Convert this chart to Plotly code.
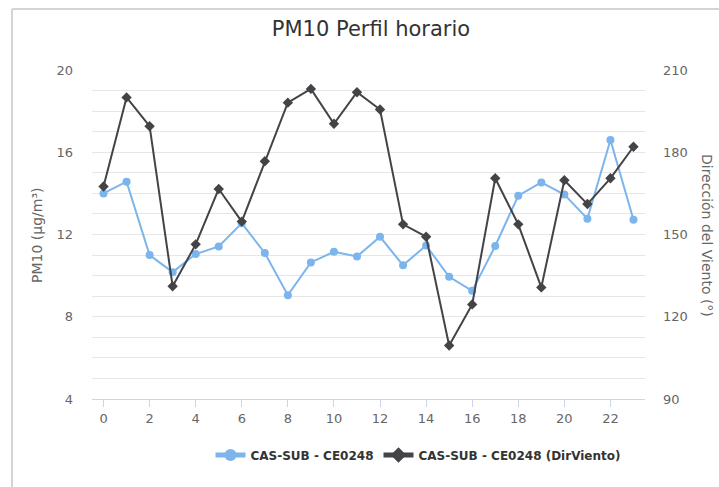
import plotly.graph_objects as go

hours = list(range(24))
pm10 = [14.0, 14.57, 11.0, 10.17, 11.05, 11.42, 12.55, 11.1, 9.05, 10.64, 11.16, 10.93,
        11.89, 10.5, 11.47, 9.94, 9.26, 11.44, 13.89, 14.53, 13.94, 12.77, 16.6, 12.72]
dir_viento = [167.5, 200.0, 189.5, 131.1, 146.4, 166.6, 154.7, 176.7, 198.1, 203.1, 190.4, 201.9,
              195.6, 153.7, 149.2, 109.5, 124.5, 170.5, 153.7, 130.7, 169.8, 161.1, 170.5, 182.0]
x_ticks = list(range(0, 24, 2))
left_ticks = [4, 8, 12, 16, 20]
right_ticks = [90, 120, 150, 180, 210]

FONT = "DejaVu Sans"
W, H = 719, 487
L, R, T, B = 92, 74, 70, 88
pw, ph = W - L - R, H - T - B

def px(x):
    return (x - L) / pw

def py(y):
    return (H - B - y) / ph

fig = go.Figure()
fig.add_trace(go.Scatter(
    x=hours, y=pm10, name="CAS-SUB - CE0248", mode="lines+markers",
    line=dict(color="#7cb5ec", width=2),
    marker=dict(symbol="circle", size=8, color="#7cb5ec"),
    yaxis="y"))
fig.add_trace(go.Scatter(
    x=hours, y=dir_viento, name="CAS-SUB - CE0248 (DirViento)", mode="lines+markers",
    line=dict(color="#434348", width=2),
    marker=dict(symbol="diamond", size=8, color="#434348"),
    yaxis="y2"))

fig.update_layout(
    width=W, height=H,
    margin=dict(l=L, r=R, t=T, b=B, pad=0, autoexpand=False),
    paper_bgcolor="white", plot_bgcolor="white",
    font=dict(family=FONT, color="#666666", size=13),
    title=dict(text="PM10 Perfil horario", xref="container", x=371 / W, xanchor="center",
               yref="container", y=1 - 29 / H, yanchor="middle",
               font=dict(size=21, color="#333333", family=FONT)),
    xaxis=dict(range=[-0.5, 23.5], tickvals=x_ticks, showgrid=False, zeroline=False,
               showline=True, linecolor="#ccd6eb", linewidth=1, automargin=False,
               ticks="outside", ticklen=7, tickcolor="#ccd6eb",
               tickfont=dict(size=13, color="#666666")),
    yaxis=dict(range=[4, 20], tickvals=left_ticks, showgrid=True, gridcolor="#e6e6e6",
               zeroline=False, showline=False, ticks="", ticklabelstandoff=18,
               automargin=False,
               minor=dict(dtick=1, tick0=4, showgrid=True, gridcolor="#e6e6e6", gridwidth=1),
               tickfont=dict(size=13, color="#666666")),
    yaxis2=dict(range=[90, 210], tickvals=right_ticks, overlaying="y", side="right",
                showgrid=False, zeroline=False, showline=False, ticks="", automargin=False,
                ticklabelstandoff=17, tickfont=dict(size=13, color="#666666")),
    showlegend=True,
    legend=dict(orientation="h", x=px(418), xanchor="center", y=py(455), yanchor="middle",
                font=dict(size=12, color="#333333", family=FONT, weight="bold"),
                itemsizing="constant", itemwidth=30, bgcolor="rgba(0,0,0,0)"),
    hovermode=False,
)

fig.add_annotation(text="PM10 (µg/m³)", xref="paper", yref="paper",
                   x=px(37), y=py(236), xanchor="center", yanchor="middle",
                   textangle=-90, showarrow=False,
                   font=dict(size=14, color="#666666", family=FONT))
fig.add_annotation(text="Dirección del Viento (°)", xref="paper", yref="paper",
                   x=px(707), y=py(235), xanchor="center", yanchor="middle",
                   textangle=90, showarrow=False,
                   font=dict(size=14, color="#666666", family=FONT))

# card border (left and top edges)
fig.add_shape(type="line", xref="paper", yref="paper", x0=px(12), x1=px(12),
              y0=py(9), y1=py(487), line=dict(color="#d4d4d4", width=2))
fig.add_shape(type="line", xref="paper", yref="paper", x0=px(12), x1=px(719),
              y0=py(9), y1=py(9), line=dict(color="#d4d4d4", width=2))

fig.write_html("out.html", config={"displayModeBar": False},
               post_script="document.body.style.margin='0';document.body.style.overflow='hidden';")
